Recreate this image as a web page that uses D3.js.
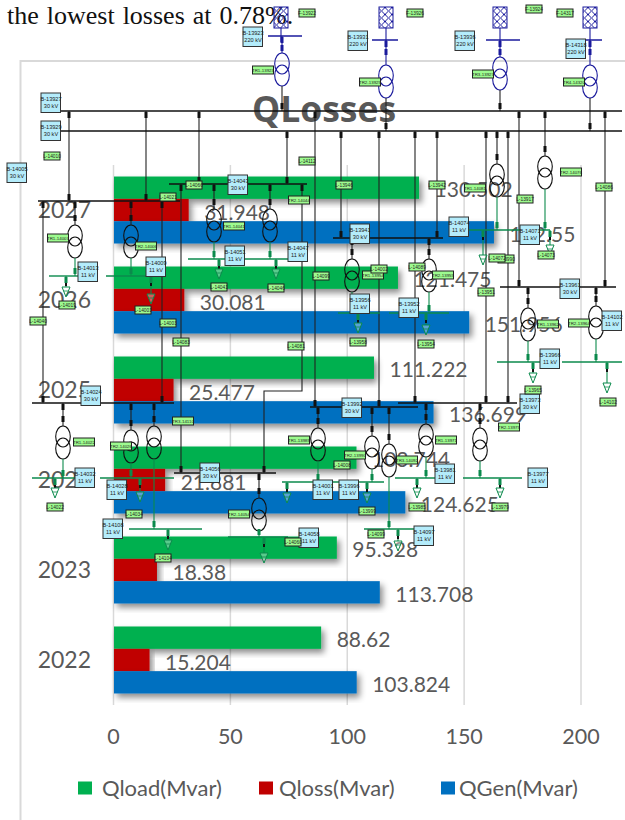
<!DOCTYPE html>
<html>
<head>
<meta charset="utf-8">
<script src="https://cdn.jsdelivr.net/npm/d3@7"></script>
<style>
    html, body { margin: 0; padding: 0; background: #fff; }
    svg { display: block; }
</style>
</head>
<body>
<div id="chart"></div>
<script>
// chart values
const years = ['2027', '2026', '2025', '2024', '2023', '2022'];
const seriesNames = ['Qload(Mvar)', 'Qloss(Mvar)', 'QGen(Mvar)'];
const seriesColors = ['#00B050', '#C00000', '#0070C0'];
const qLoad = [130.502, 121.475, 111.222, 103.744, 95.328, 88.62];
const qLoss = [31.948, 30.081, 25.477, 21.881, 18.38, 15.204];
const qGen = [162.55, 151.956, 136.699, 124.625, 113.708, 103.824];
const xTicks = [0, 50, 100, 150, 200];

// single-line diagram pasted over the chart, page coordinates
const hvBuses = [[268, 302, 36], [372, 398, 40], [486, 520, 40], [580, 602, 40]];
const blackBuses = [
    [60, 622, 111], [60, 622, 131], [38, 180, 201], [169, 307, 184], [333, 443, 238],
    [500, 616, 287], [32, 174, 403], [310, 418, 407], [398, 517, 403], [174, 276, 473]
];
const greenBuses = [
    [49, 80, 276], [106, 146, 276], [188, 296, 259], [338, 380, 313], [389, 449, 313],
    [497, 540, 362], [562, 622, 362], [469, 550, 230], [32, 75, 478], [100, 174, 478],
    [129, 202, 529], [282, 384, 482], [395, 435, 478], [463, 522, 478], [228, 288, 537],
    [364, 414, 529]
];
const feeders = [[281, 7], [386, 7], [500, 7], [590, 7]];
const links = [
    [69, 111, 201], [146, 111, 201], [199, 111, 184], [315, 111, 407], [519, 111, 287],
    [605, 111, 287], [287, 131, 184], [341, 131, 238], [379, 131, 407], [415, 131, 403],
    [437, 131, 238], [486, 131, 403], [508, 131, 403], [43, 201, 403], [162, 201, 403],
    [181, 184, 473]
];
const xfmrsHv = [[282, 53, 36, 111], [386, 65, 40, 131], [500, 57, 40, 111], [590, 65, 40, 131]];
const xfmrsLv = [
    [75, 225, 201, 276], [131, 225, 201, 276], [214, 209, 184, 259], [270, 209, 184, 259],
    [352, 259, 238, 313], [429, 259, 238, 313], [528, 308, 287, 362], [596, 306, 287, 362],
    [63, 426, 403, 478], [131, 430, 403, 478], [154, 426, 403, 529], [259, 498, 473, 537],
    [318, 428, 407, 482], [372, 436, 407, 482], [389, 444, 407, 529], [426, 424, 403, 478],
    [480, 428, 403, 478], [497, 164, 131, 230], [545, 156, 111, 230]
];
const loads = [
    [66, 276, 287], [151, 276, 294], [219, 259, 269], [276, 259, 269], [483, 230, 255],
    [550, 230, 245], [358, 313, 323], [426, 313, 325], [533, 362, 373], [607, 362, 383],
    [55, 478, 488], [140, 478, 492], [168, 529, 540], [264, 537, 553], [287, 482, 493],
    [367, 482, 493], [417, 478, 488], [500, 478, 488], [398, 529, 541]
];
const busLabels = [
    ['B-13923', '220 kV', 243, 27], ['B-13931', '220 kV', 348, 31], ['B-13936', '220 kV', 455, 31],
    ['B-14318', '220 kV', 566, 39], ['B-13927', '30 kV', 41, 93], ['B-13929', '30 kV', 41, 121],
    ['B-14005', '30 kV', 7, 163], ['B-14043', '30 kV', 228, 175], ['B-14013', '11 kV', 78, 262],
    ['B-14009', '11 kV', 146, 257], ['B-14051', '11 kV', 225, 246], ['B-14047', '11 kV', 288, 242],
    ['B-13941', '30 kV', 350, 224], ['B-14074', '11 kV', 449, 217], ['B-14071', '11 kV', 520, 225],
    ['B-13956', '11 kV', 350, 294], ['B-13952', '11 kV', 399, 298], ['B-13961', '30 kV', 560, 279],
    ['B-13966', '11 kV', 540, 349], ['B-14102', '11 kV', 602, 311], ['B-13973', '30 kV', 520, 394],
    ['B-13992', '30 kV', 342, 398], ['B-14024', '30 kV', 81, 386], ['B-14056', '30 kV', 200, 463],
    ['B-14032', '11 kV', 75, 468], ['B-14028', '11 kV', 107, 480], ['B-14108', '11 kV', 103, 519],
    ['B-14058', '11 kV', 299, 528], ['B-14001', '11 kV', 313, 480], ['B-13996', '11 kV', 339, 480],
    ['B-13981', '11 kV', 435, 464], ['B-13977', '11 kV', 528, 468], ['B-14097', '11 kV', 414, 526]
];
const elementTags = [
    ['F-13922', 307, 13], ['F-13926', 415, 13], ['F-13924', 534, 9], ['F-14317', 565, 13],
    ['TR1-13923', 263, 70], ['TR2-13925', 370, 82], ['TR3-13927', 483, 74], ['TR4-14320', 574, 82],
    ['L-14010', 52, 156], ['L-14112', 307, 161], ['L-13946', 344, 185], ['L-13942', 437, 185],
    ['TR1-14081', 475, 188], ['L-13917', 525, 199], ['TR2-14076', 571, 172], ['L-14086', 604, 187],
    ['L-14066', 194, 185], ['L-14021', 168, 197], ['TR2-14044', 299, 200], ['TR1-14041', 234, 226],
    ['TR1-14007', 58, 238], ['TR2-14006', 146, 246], ['L-14041', 219, 287], ['L-14046', 276, 288],
    ['L-14099', 321, 276], ['TR1-13954', 373, 275], ['L-14002', 379, 269], ['L-14089', 417, 267],
    ['TR2-13955', 443, 275], ['L-13990', 506, 259], ['L-14072', 497, 258], ['L-14073', 546, 255],
    ['L-13951', 486, 292], ['L-14001', 143, 310], ['L-14019', 67, 305], ['L-14040', 38, 321],
    ['L-14003', 168, 323], ['L-14083', 181, 342], ['L-14081', 296, 346], ['L-13958', 358, 342],
    ['L-13954', 426, 344], ['TR1-13962', 548, 324], ['TR2-13964', 579, 323], ['L-13965', 533, 390],
    ['L-14102', 608, 402], ['TR3-14110', 183, 421], ['TR1-14022', 84, 442], ['TR2-14026', 121, 446],
    ['TR1-13989', 299, 440], ['TR2-13990', 355, 455], ['TR3-14092', 407, 460], ['TR1-13971', 446, 440],
    ['TR2-13975', 509, 427], ['L-14008', 342, 465], ['L-14022', 55, 507], ['L-14034', 134, 514],
    ['L-13985', 417, 507], ['L-13979', 500, 507], ['TR2-14054', 239, 514], ['L-13999', 367, 511],
    ['L-14099', 376, 534], ['L-14060', 293, 542], ['L-14104', 163, 558]
];

const NAVY = '#1a1a9c';
const LV_GREEN = '#0b8a4c';
const INK = '#111';
const textColor = '#595959';
const chartFont = 'Lato, "Open Sans", sans-serif';

const svg = d3.select('#chart').append('svg')
    .attr('width', 625)
    .attr('height', 820);

const defs = svg.append('defs');
const shadow = defs.append('filter')
    .attr('id', 'bar-shadow')
    .attr('x', '-10%').attr('y', '-30%')
    .attr('width', '125%').attr('height', '170%');
shadow.append('feDropShadow')
    .attr('dx', 3).attr('dy', 4)
    .attr('stdDeviation', 3)
    .attr('flood-color', '#000')
    .attr('flood-opacity', 0.45);

const hatch = defs.append('pattern')
    .attr('id', 'feeder-hatch')
    .attr('width', 7).attr('height', 7)
    .attr('patternUnits', 'userSpaceOnUse')
    .attr('patternTransform', 'translate(0,0.5)');
hatch.append('path')
    .attr('d', 'M0,0L7,7M7,0L0,7')
    .attr('stroke', NAVY).attr('stroke-width', 1);

// page text above the chart
svg.append('text')
    .attr('x', 7)
    .attr('y', 24)
    .style('font-family', '"Liberation Serif", serif')
    .style('font-size', '26px')
    .style('word-spacing', '1.5px')
    .attr('fill', '#111')
    .text('the lowest losses at 0.78%.');

// chart frame runs off the right and bottom of the page
svg.append('path')
    .attr('d', 'M625,61H20.5V820')
    .attr('fill', 'none')
    .attr('stroke', '#d9d9d9')
    .attr('stroke-width', 2);

const x = d3.scaleLinear().domain([0, 200]).range([113.5, 581]);
const y = d3.scaleBand().domain(years).range([165, 705]).paddingInner(0.2556).paddingOuter(0.128);
const yInner = d3.scaleBand().domain(seriesNames).range([0, y.bandwidth()]);
const seriesValues = [qLoad, qLoss, qGen];

svg.append('g')
    .selectAll('line')
    .data(xTicks)
    .join('line')
    .attr('x1', d => x(d)).attr('x2', d => x(d))
    .attr('y1', 165).attr('y2', 705)
    .attr('stroke', '#d9d9d9')
    .attr('stroke-width', 1.5);

const rows = seriesNames.flatMap((name, s) => years.map((year, i) => ({
    year, name, value: seriesValues[s][i], color: seriesColors[s]
})));

svg.append('g')
    .selectAll('rect')
    .data(rows)
    .join('rect')
    .attr('x', x(0) + 0.5)
    .attr('y', d => y(d.year) + yInner(d.name))
    .attr('width', d => x(d.value) - x(0))
    .attr('height', yInner.bandwidth())
    .attr('fill', d => d.color)
    .attr('filter', 'url(#bar-shadow)');

svg.append('g')
    .selectAll('text')
    .data(rows)
    .join('text')
    .attr('x', d => x(d.value) + 16)
    .attr('y', d => y(d.year) + yInner(d.name) + yInner.bandwidth() / 2 + 2)
    .attr('dy', '0.36em')
    .style('font-family', chartFont)
    .style('font-size', '21px')
    .attr('fill', textColor)
    .text(d => d.value);

svg.append('g')
    .selectAll('text')
    .data(years)
    .join('text')
    .attr('x', 91)
    .attr('y', d => y(d) + y.bandwidth() / 2)
    .attr('dy', '0.36em')
    .attr('text-anchor', 'end')
    .style('font-family', chartFont)
    .style('font-size', '23px')
    .attr('fill', textColor)
    .text(d => d);

svg.append('g')
    .selectAll('text')
    .data(xTicks)
    .join('text')
    .attr('x', d => x(d))
    .attr('y', 736)
    .attr('dy', '0.36em')
    .attr('text-anchor', 'middle')
    .style('font-family', chartFont)
    .style('font-size', '21.5px')
    .attr('fill', textColor)
    .text(d => d);

svg.append('text')
    .attr('x', 324)
    .attr('y', 122)
    .attr('text-anchor', 'middle')
    .style('font-family', '"Open Sans", sans-serif')
    .style('font-weight', 700)
    .style('font-size', '35.5px')
    .attr('fill', textColor)
    .text('QLosses');

// legend
const legendX = [78, 259, 441];
const legendTextX = [24, 20, 18];
const legend = svg.append('g')
    .selectAll('g')
    .data(seriesNames)
    .join('g')
    .attr('transform', (d, i) => `translate(${legendX[i]}, 788)`);
legend.append('rect')
    .attr('y', -6.5)
    .attr('width', 14).attr('height', 13)
    .attr('fill', (d, i) => seriesColors[i]);
legend.append('text')
    .attr('x', (d, i) => legendTextX[i])
    .attr('dy', '0.36em')
    .style('font-family', chartFont)
    .style('font-size', '22px')
    .attr('fill', textColor)
    .text(d => d);

// --- diagram overlay ---
const net = svg.append('g').attr('class', 'network');

function drawLink(px, y1, y2, color) {
    net.append('line')
        .attr('x1', px).attr('x2', px)
        .attr('y1', y1).attr('y2', y2)
        .attr('stroke', color).attr('stroke-width', 1.1);
}

// little breaker block just off a bus
function drawBlock(px, py, color) {
    net.append('rect')
        .attr('x', px - 1.5).attr('y', py)
        .attr('width', 3).attr('height', 6)
        .attr('fill', color);
}

function drawTransformer(px, top, color) {
    [top + 10.5, top + 22.5].forEach(cy => {
        net.append('ellipse')
            .attr('cx', px).attr('cy', cy)
            .attr('rx', 7.3).attr('ry', 10.5)
            .attr('fill', 'none')
            .attr('stroke', color).attr('stroke-width', 1.1);
    });
}

net.selectAll('.link')
    .data(links)
    .join('line')
    .attr('class', 'link')
    .attr('x1', d => d[0]).attr('x2', d => d[0])
    .attr('y1', d => d[1]).attr('y2', d => d[2])
    .attr('stroke', '#222').attr('stroke-width', 1.1);
links.forEach(d => {
    drawBlock(d[0], d[1] + 1, INK);
    drawBlock(d[0], d[2] - 7, INK);
});

// rerouted 30 kV line with its dogleg
net.append('path')
    .attr('d', 'M302,184V391H264V473')
    .attr('fill', 'none')
    .attr('stroke', '#222').attr('stroke-width', 1.1);
drawBlock(302, 185, INK);
drawBlock(264, 466, INK);

feeders.forEach(d => {
    net.append('rect')
        .attr('x', d[0] - 7).attr('y', d[1])
        .attr('width', 14).attr('height', 21)
        .attr('fill', 'url(#feeder-hatch)')
        .attr('stroke', NAVY).attr('stroke-width', 1);
    drawLink(d[0], d[1] + 21, d[1] + 35, NAVY);
});

xfmrsHv.forEach(d => {
    drawTransformer(d[0], d[1], NAVY);
    drawLink(d[0], d[2], d[1], NAVY);
    drawBlock(d[0], d[2] + 1, NAVY);
    drawBlock(d[0], d[2] + 9, NAVY);
    drawLink(d[0], d[1] + 33, d[3], '#222');
    drawBlock(d[0], d[3] - 8, INK);
});

xfmrsLv.forEach(d => {
    drawTransformer(d[0], d[1], '#111');
    drawLink(d[0], d[2], d[1], '#222');
    drawBlock(d[0], d[2] + 1, INK);
    drawBlock(d[0], d[1] - 10, INK);
    drawLink(d[0], d[1] + 33, d[3], LV_GREEN);
    drawBlock(d[0], d[3] - 8, LV_GREEN);
});

function drawBuses(data, color, width) {
    net.append('g')
        .selectAll('line')
        .data(data)
        .join('line')
        .attr('x1', d => d[0]).attr('x2', d => d[1])
        .attr('y1', d => d[2]).attr('y2', d => d[2])
        .attr('stroke', color).attr('stroke-width', width);
}
drawBuses(hvBuses, NAVY, 1.5);
drawBuses(blackBuses, INK, 1.6);
drawBuses(greenBuses, LV_GREEN, 1.4);

// grounded load symbols hanging off the 11 kV buses
loads.forEach(d => {
    drawLink(d[0], d[1], d[2], LV_GREEN);
    drawBlock(d[0], d[1] + 1, LV_GREEN);
    net.append('rect')
        .attr('x', d[0] - 1).attr('y', d[1] + 7)
        .attr('width', 2).attr('height', 3)
        .attr('fill', INK);
    net.append('path')
        .attr('d', `M${d[0] - 4},${d[2]}H${d[0] + 4}L${d[0]},${d[2] + 10}Z`)
        .attr('fill', '#fff').attr('fill-opacity', 0.35)
        .attr('stroke', LV_GREEN).attr('stroke-width', 1);
    net.append('line')
        .attr('x1', d[0] - 2.5).attr('x2', d[0] + 2.5)
        .attr('y1', d[2] + 4).attr('y2', d[2] + 4)
        .attr('stroke', LV_GREEN).attr('stroke-width', 0.8);
});

const busLabel = net.append('g')
    .selectAll('g')
    .data(busLabels)
    .join('g')
    .attr('transform', d => `translate(${d[2]}, ${d[3]})`);
busLabel.append('rect')
    .attr('width', 19.5).attr('height', 19.5)
    .attr('fill', '#b4ecfb')
    .attr('stroke', '#333').attr('stroke-width', 1);
busLabel.append('text')
    .attr('x', 10).attr('y', 7.5)
    .attr('text-anchor', 'middle')
    .style('font-family', '"Liberation Sans", sans-serif')
    .style('font-size', '5.6px')
    .attr('fill', '#222')
    .text(d => d[0]);
busLabel.append('text')
    .attr('x', 10).attr('y', 15)
    .attr('text-anchor', 'middle')
    .style('font-family', '"Liberation Sans", sans-serif')
    .style('font-size', '5.6px')
    .attr('fill', '#222')
    .text(d => d[1]);

const tag = net.append('g')
    .selectAll('g')
    .data(elementTags)
    .join('g')
    .attr('transform', d => `translate(${d[1]}, ${d[2]})`);
tag.append('rect')
    .attr('x', d => d[0].startsWith('TR') ? -10.5 : -8)
    .attr('y', -4)
    .attr('width', d => d[0].startsWith('TR') ? 21 : 16)
    .attr('height', 8)
    .attr('fill', '#9dfb8f')
    .attr('stroke', '#222').attr('stroke-width', 1);
tag.append('text')
    .attr('text-anchor', 'middle')
    .attr('dy', '0.36em')
    .style('font-family', '"Liberation Sans Narrow", "Liberation Sans", sans-serif')
    .style('font-size', d => d[0].startsWith('TR') ? '4.4px' : '4.8px')
    .attr('fill', '#222')
    .text(d => d[0]);
</script>
</body>
</html>
